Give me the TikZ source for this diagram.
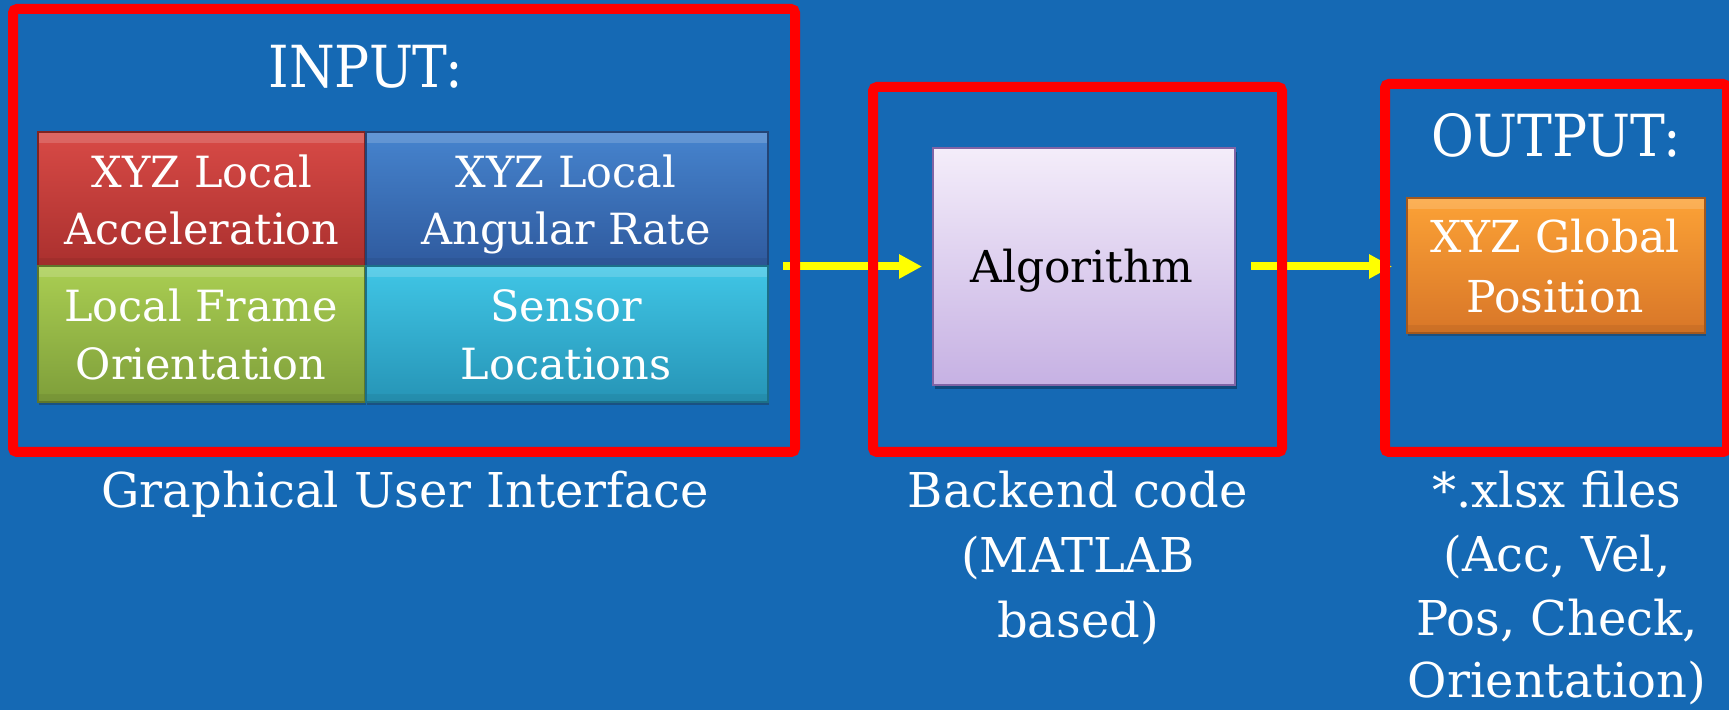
\documentclass[tikz,border=0pt]{standalone}
\usepackage{fontspec}
\setmainfont{DejaVu Serif}
\newfontfamily\titlefont{DejaVu Serif Condensed}
\usetikzlibrary{fit,calc,arrows.meta,shadows}

\definecolor{slide}{RGB}{21,105,180}
\definecolor{framered}{RGB}{255,0,0}
\definecolor{flowyellow}{RGB}{255,255,0}
\definecolor{accTop}{RGB}{216,74,70}
\definecolor{accBot}{RGB}{170,48,46}
\definecolor{rateTop}{RGB}{70,132,206}
\definecolor{rateBot}{RGB}{47,90,158}
\definecolor{oriTop}{RGB}{170,206,82}
\definecolor{oriBot}{RGB}{126,158,58}
\definecolor{senTop}{RGB}{64,198,230}
\definecolor{senBot}{RGB}{38,148,182}
\definecolor{posTop}{RGB}{252,162,54}
\definecolor{posBot}{RGB}{216,118,40}
\definecolor{algTop}{RGB}{244,237,250}
\definecolor{algBot}{RGB}{198,177,227}
\definecolor{algEdge}{RGB}{128,100,165}

\pgfdeclarelayer{bg}
\pgfdeclarelayer{flow}
\pgfsetlayers{bg,flow,main}

\begin{document}
\begin{tikzpicture}[x=0.5pt,y=-0.5pt,
  frame/.style={draw=framered, line width=5pt, rounded corners=2pt,
    inner sep=0pt, outer sep=0pt},
  tile/.style 2 args={inner sep=0pt, outer sep=0pt, top color=#1, bottom color=#2,
    draw=#2!75!black, line width=0.6pt,
    drop shadow={shadow xshift=0.6pt, shadow yshift=-1.6pt, opacity=0.35, fill=black!85},
    path picture={
      \fill[white, opacity=0.16] (path picture bounding box.north west) rectangle
        ($(path picture bounding box.north east)+(0,11)$);
      \fill[black, opacity=0.06] ($(path picture bounding box.south west)+(0,-8)$) rectangle
        (path picture bounding box.south east);}},
  flowarrow/.style={draw=flowyellow, line width=4pt,
    -{Triangle[length=11.5pt,width=11.5pt]}},
  tiletext/.style={text=white, anchor=base, inner sep=0pt,
    font=\fontsize{21.5}{26}\selectfont},
  boxtext/.style={text=white, anchor=base, inner sep=0pt,
    font=\fontsize{22}{26}\selectfont},
  caption/.style={text=white, anchor=base, inner sep=0pt,
    font=\fontsize{24}{30}\selectfont},
  heading/.style={text=white, anchor=base, inner sep=0pt,
    font=\titlefont\fontsize{29}{34}\selectfont}]

% slide background
\begin{pgfonlayer}{bg}
  \fill[slide] (0,0) rectangle (1729,710);
\end{pgfonlayer}
\useasboundingbox (0,0) rectangle (1729,710);

% input tiles
\node[tile={accTop}{accBot}, fit={(38,132)(365,266)}] (acc) {};
\node[tile={rateTop}{rateBot}, fit={(366,132)(768,266)}] (rate) {};
\node[tile={oriTop}{oriBot}, fit={(38,266)(365,402)}] (ori) {};
\node[tile={senTop}{senBot}, fit={(366,266)(768,402)}] (sen) {};

% algorithm block
\node[fit={(933,148)(1235,385)}, inner sep=0pt, outer sep=0pt,
  top color=algTop, bottom color=algBot, draw=algEdge, line width=0.8pt,
  drop shadow={shadow xshift=1pt, shadow yshift=-2pt, opacity=0.3, fill=black}] (algo) {};

% output tile
\node[tile={posTop}{posBot}, fit={(1407,198)(1705,333)}] (pos) {};

% grouping frames
\node[frame, fit={(13,9)(795,452)}] (inframe) {};
\node[frame, fit={(873,87)(1282,452)}] (coreframe) {};
\node[frame, fit={(1385,84)(1727,452)}] (outframe) {};

% data flow
\begin{pgfonlayer}{flow}
  \draw[flowarrow] ($(inframe.east |- algo.center)+(-12,0)$) -- ($(algo.west)+(-11,0)$);
  \draw[flowarrow] ($(algo.east)+(16,0)$) -- ($(outframe.west |- algo.center)+(7,0)$);
\end{pgfonlayer}

% headings
\node[heading] (inhead) at (366,88) {INPUT:};
\node[heading] (outhead) at (1556,157) {OUTPUT:};

% tile labels
\node[tiletext] (acc1) at (202,188) {XYZ Local};
\node[tiletext] (acc2) at (202,245) {Acceleration};
\node[tiletext] (rate1) at (566,188) {XYZ Local};
\node[tiletext] (rate2) at (566,245) {Angular Rate};
\node[tiletext] (ori1) at (201,322) {Local Frame};
\node[tiletext] (ori2) at (201,380) {Orientation};
\node[tiletext] (sen1) at (566,322) {Sensor};
\node[tiletext] (sen2) at (566,380) {Locations};

\node[boxtext, text=black] (algtext) at (1082,283) {Algorithm};
\node[boxtext] (pos1) at (1555,253) {XYZ Global};
\node[boxtext] (pos2) at (1555,313) {Position};

% captions under the frames
\node[caption] (gui) at (405,508) {Graphical User Interface};
\node[caption] (back1) at (1078,508) {Backend code};
\node[caption] (back2) at (1078,573) {(MATLAB};
\node[caption] (back3) at (1078,637) {based)};
\node[caption] (xl1) at (1557,508) {*.xlsx files};
\node[caption] (xl2) at (1557,572) {(Acc, Vel,};
\node[caption] (xl3) at (1557,635) {Pos, Check,};
\node[caption] (xl4) at (1557,697) {Orientation)};
\end{tikzpicture}
\end{document}
